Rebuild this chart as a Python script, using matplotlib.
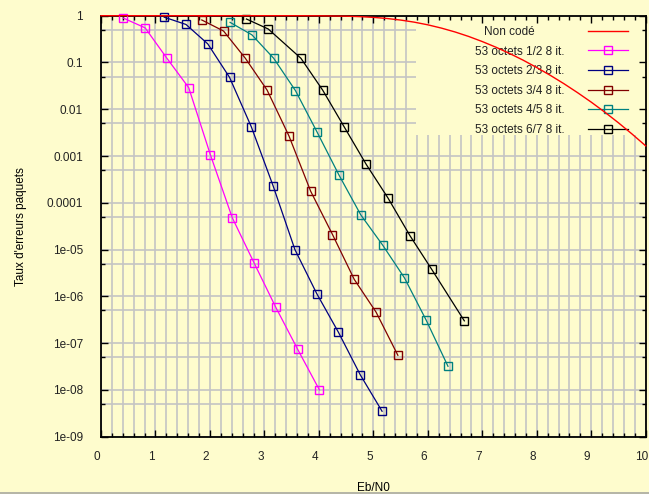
import matplotlib
matplotlib.use("Agg")
import matplotlib.pyplot as plt
import matplotlib.transforms as mtransforms
from matplotlib.lines import Line2D
from matplotlib.patches import Rectangle
from matplotlib.ticker import FixedLocator, FixedFormatter, MultipleLocator

# Uncoded packet error rate (53-byte packets)
ebn0_uncoded = [0.0, 1.0, 2.0, 3.0, 3.5, 4.0, 4.5, 4.75, 5.0, 5.25, 5.5, 5.75,
                6.0, 6.25, 6.5, 6.75, 7.0, 7.25, 7.5, 7.75, 8.0, 8.25, 8.5,
                8.75, 9.0, 9.25, 9.5, 9.75, 10.0]
per_uncoded = [1.0, 1.0, 1.0, 1.0, 0.9994, 0.9952, 0.9766, 0.9551, 0.921,
               0.872, 0.807, 0.728, 0.638, 0.543, 0.449, 0.360, 0.280, 0.212,
               0.156, 0.112, 0.0779, 0.0530, 0.0351, 0.0226, 0.0142, 0.00866,
               0.00513, 0.00295, 0.00165]

# Turbo-coded packets, 8 iterations
ebn0_r12 = [0.41, 0.81, 1.21, 1.61, 2.01, 2.41, 2.81, 3.21, 3.61, 4.01]
per_r12 = [0.89, 0.55, 0.123, 0.029, 1.05e-3, 4.8e-5, 5.2e-6, 5.8e-7, 7.4e-8, 1.0e-8]

ebn0_r23 = [1.16, 1.56, 1.96, 2.36, 2.76, 3.16, 3.56, 3.96, 4.36, 4.76, 5.16]
per_r23 = [0.93, 0.65, 0.25, 0.048, 4.2e-3, 2.3e-4, 1.0e-5, 1.15e-6, 1.7e-7, 2.1e-8, 3.5e-9]

ebn0_r34 = [1.85, 2.25, 2.65, 3.05, 3.45, 3.85, 4.25, 4.65, 5.05, 5.45]
per_r34 = [0.81, 0.47, 0.123, 0.0256, 2.7e-3, 1.76e-4, 2.1e-5, 2.3e-6, 4.6e-7, 5.5e-8]

ebn0_r45 = [2.37, 2.77, 3.17, 3.57, 3.97, 4.37, 4.77, 5.17, 5.57, 5.97, 6.37]
per_r45 = [0.72, 0.39, 0.123, 0.025, 3.2e-3, 3.9e-4, 5.5e-5, 1.25e-5, 2.5e-6, 3.1e-7, 3.2e-8]

ebn0_r67 = [2.67, 3.07, 3.67, 4.07, 4.47, 4.87, 5.27, 5.67, 6.07, 6.67]
per_r67 = [0.85, 0.52, 0.123, 0.0256, 4.1e-3, 6.6e-4, 1.26e-4, 2.0e-5, 3.8e-6, 3.0e-7]

uncoded_label = "Non codé"
coded_labels = ["53 octets 1/2 8 it.", "53 octets 2/3 8 it.", "53 octets 3/4 8 it.",
                "53 octets 4/5 8 it.", "53 octets 6/7 8 it."]
coded_colors = ["#ff00ff", "#000080", "#800000", "#008080", "#000000"]

xticks = [0, 1, 2, 3, 4, 5, 6, 7, 8, 9, 10]
yticks = [1e-9, 1e-8, 1e-7, 1e-6, 1e-5, 1e-4, 1e-3, 1e-2, 1e-1, 1]
ytick_labels = ["1e-09", "1e-08", "1e-07", "1e-06", "1e-05", "0.0001",
                "0.001", "0.01", "0.1", "1"]
yminor = [5e-9, 5e-8, 5e-7, 5e-6, 5e-5, 5e-4, 5e-3, 5e-2, 5e-1]

BG = "#fefccd"
GRID = "#c4c4c4"

plt.rcParams["font.family"] = ["Liberation Sans", "DejaVu Sans"]
plt.rcParams["font.size"] = 8.5

fig = plt.figure(figsize=(6.49, 4.94), dpi=100, facecolor=BG)
rect = [101 / 649, 1 - 436.7 / 494, 544.7 / 649, 421 / 494]

# Background layer: grid, tick labels and axis titles
ax = fig.add_axes(rect)
ax.set_facecolor(BG)
ax.set_yscale("log")
ax.set_xlim(0, 10)
ax.set_ylim(1e-9, 1)
ax.xaxis.set_major_locator(FixedLocator(xticks))
ax.xaxis.set_major_formatter(FixedFormatter([str(v) for v in xticks]))
ax.xaxis.set_minor_locator(MultipleLocator(0.2))
ax.yaxis.set_major_locator(FixedLocator(yticks))
ax.yaxis.set_major_formatter(FixedFormatter(ytick_labels))
ax.yaxis.set_minor_locator(FixedLocator(yminor))
ax.set_axisbelow(True)
ax.grid(True, which="both", color=GRID, lw=1.2)
ax.tick_params(which="both", length=0, colors="#222222")
ax.tick_params(axis="y", pad=13)
ax.tick_params(axis="x", pad=10)
for s in ax.spines.values():
    s.set_visible(False)
ax.set_xlabel("Eb/N0", labelpad=14)
ax.set_ylabel("Taux d'erreurs paquets", labelpad=14)

# opaque area behind the key
ax.add_patch(Rectangle((0.578, 0.716), 0.422, 0.284, transform=ax.transAxes,
                       facecolor=BG, edgecolor="none", zorder=1))

shift = mtransforms.ScaledTranslation(-4 / 100, 0, fig.dpi_scale_trans)
for lbl in ax.get_xticklabels():
    lbl.set_transform(lbl.get_transform() + shift)

# Foreground layer: data, key, frame and ticks
axf = fig.add_axes(rect, sharex=ax, sharey=ax)
axf.set_facecolor("none")
axf.tick_params(which="both", direction="in", top=True, right=True,
                labelleft=False, labelbottom=False, color="black", width=1.0)
axf.tick_params(which="major", length=5)
axf.tick_params(which="minor", length=3)
for s in axf.spines.values():
    s.set_linewidth(1.3)
    s.set_color("black")
    s.set_zorder(2.5)

axf.plot(ebn0_uncoded, per_uncoded, color="#ff0000", lw=1.0,
         label=uncoded_label + " " * 9, zorder=4, clip_on=False)
series = [(ebn0_r12, per_r12), (ebn0_r23, per_r23), (ebn0_r34, per_r34),
          (ebn0_r45, per_r45), (ebn0_r67, per_r67)]
for (xs, ys), lab, col in zip(series, coded_labels, coded_colors):
    axf.plot(xs, ys, color=col, lw=0.9, marker="s", ms=5.2, mfc="none",
             mec=col, mew=1.0, label=lab, zorder=3, clip_on=False)

leg = axf.legend(loc="upper right", bbox_to_anchor=(0.9675, 0.9755),
                 frameon=False, markerfirst=False, handlelength=3.4,
                 handletextpad=2.0, labelspacing=0.64, borderpad=0,
                 borderaxespad=0, fontsize=8.5)
leg.set_zorder(2.8)
for t in leg.get_texts():
    t.set_color("#222222")

fig.add_artist(Line2D([0, 1], [0.003, 0.003], transform=fig.transFigure,
                      color="#a8a8a0", lw=1.2))

fig.savefig("out.png", dpi=100, facecolor=BG)
